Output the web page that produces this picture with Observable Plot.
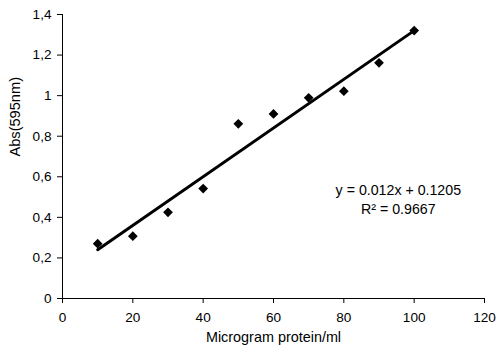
<!DOCTYPE html>
<html><head><meta charset="utf-8">
<script src="https://cdn.jsdelivr.net/npm/d3@7"></script>
<script src="https://cdn.jsdelivr.net/npm/@observablehq/plot@0.6"></script>
<style>html,body{margin:0;padding:0;background:#fff;} svg{display:block}</style>
</head><body><div id="chart"></div>
<script>
const protein = [10, 20, 30, 40, 50, 60, 70, 80, 90, 100];
const absorbance = [0.27, 0.307, 0.425, 0.542, 0.861, 0.91, 0.989, 1.022, 1.162, 1.321];
const trendX = [10, 100];
const trendY = [0.2405, 1.3205];
const xTicks = [0, 20, 40, 60, 80, 100, 120];
const yTicks = [0, 0.2, 0.4, 0.6, 0.8, 1, 1.2, 1.4];
const equationText = "y = 0.012x + 0.1205";
const r2Text = "R² = 0.9667";
const xTitle = "Microgram protein/ml";
const yTitle = "Abs(595nm)";

const points = protein.map((x, i) => ({x, y: absorbance[i]}));
const trend = trendX.map((x, i) => ({x, y: trendY[i]}));

const chart = Plot.plot({
  width: 496,
  height: 349,
  marginLeft: 62,
  marginRight: 12,
  marginTop: 14,
  marginBottom: 51,
  style: {fontFamily: "'Liberation Sans', Arial, sans-serif", fontSize: "13.6px", color: "#000", background: "#fff"},
  x: {domain: [0, 120]},
  y: {domain: [0, 1.4]},
  marks: [
    Plot.axisX({ticks: xTicks, tickSize: 5, tickPadding: 9, label: null, stroke: "#000"}),
    Plot.axisY({ticks: yTicks, tickSize: 5, tickPadding: 6, label: null, stroke: "#000",
      tickFormat: d => String(d).replace(".", ",")}),
    Plot.ruleY([0], {stroke: "#000"}),
    Plot.ruleX([0], {stroke: "#000"}),
    Plot.line(trend, {x: "x", y: "y", stroke: "#000", strokeWidth: 3}),
    Plot.dot(points, {x: "x", y: "y", symbol: "diamond2", r: 4.4, fill: "#000", stroke: "none"}),
    Plot.text([equationText], {x: 95.5, y: 0.512, text: d => d, lineAnchor: "bottom", textAnchor: "middle", fontSize: 14.2}),
    Plot.text([r2Text], {x: 95.5, y: 0.419, text: d => d, lineAnchor: "bottom", textAnchor: "middle", fontSize: 14.2}),
    Plot.text([xTitle], {frameAnchor: "bottom", dy: 43, text: d => d, lineAnchor: "bottom", fontSize: 14.4}),
    Plot.text([yTitle], {frameAnchor: "left", dx: -47, rotate: -90, text: d => d, lineAnchor: "middle", fontSize: 14.6})
  ]
});
document.getElementById("chart").append(chart);
</script>
</body></html>
